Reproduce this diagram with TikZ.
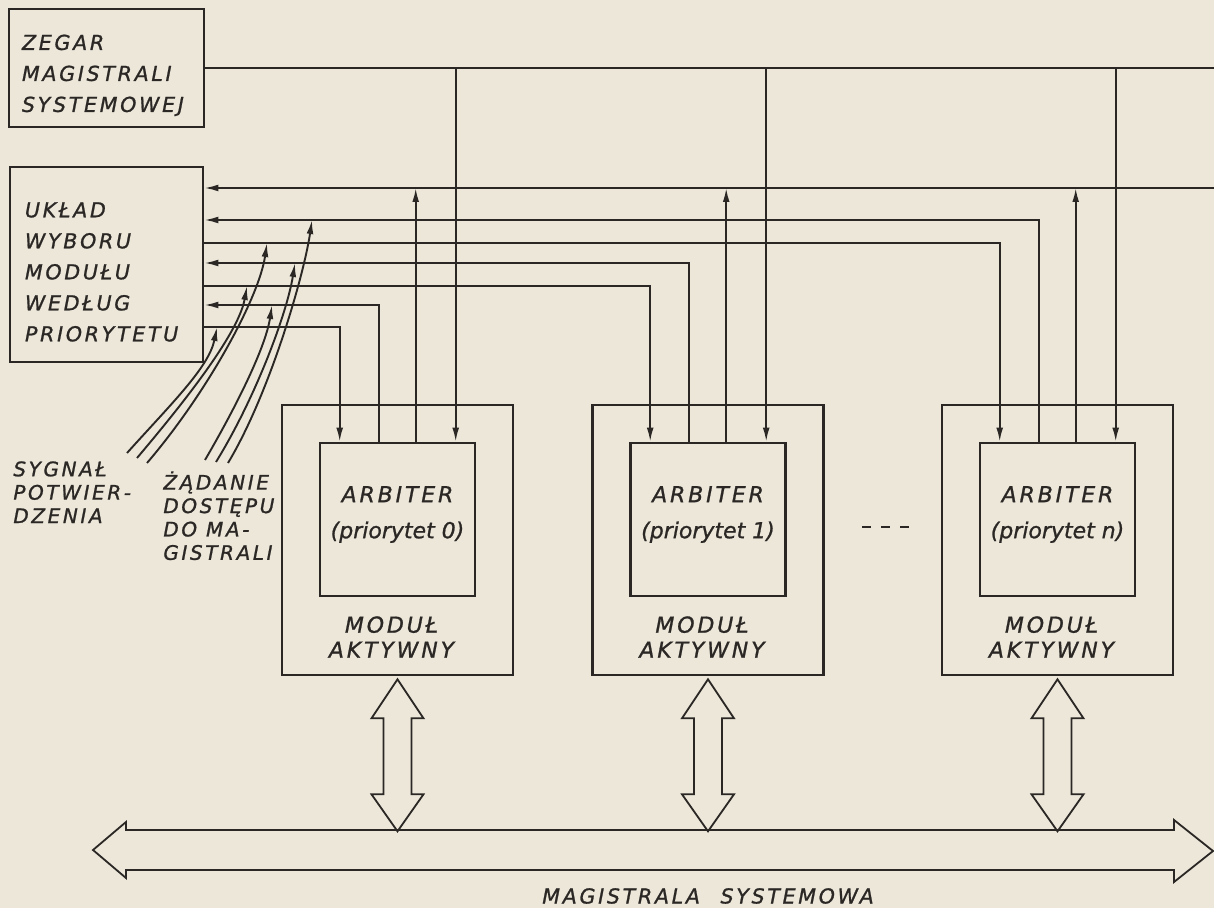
\documentclass[tikz,border=0pt]{standalone}
\usepackage{fontspec}
\usepackage{tikz}
\usetikzlibrary{arrows.meta,calc}
\newfontfamily\handfont{DejaVu Sans}[LetterSpace=13, FakeBold=1]
\newfontfamily\handtight{DejaVu Sans}[FakeBold=1]
\definecolor{paper}{RGB}{236,231,217}
\definecolor{ink}{RGB}{42,39,37}
\newcommand{\busarrow}[1]{% #1 = wezel modulu
  \draw[ink, line width=0.9pt, line join=miter] (#1.south) ++(0,3)
    -- +(26,39) -- +(14,39) -- +(14,115) -- +(26,115) -- +(0,152)
    -- +(-26,115) -- +(-14,115) -- +(-14,39) -- +(-26,39) -- cycle;
}

\begin{document}
\begin{tikzpicture}[x=0.5pt, y=-0.5pt,
    box/.style={draw=ink, line width=1.3pt, inner sep=0pt},
    sig/.style={draw=ink, line width=0.95pt},
    tip/.style={-{Latex[length=7pt,width=3.4pt]}},
    boxtxt/.style={text=ink, font=\handfont\itshape\fontsize{10.3}{15.5}\selectfont},
    arbtxt/.style={text=ink, inner sep=0pt, align=center, font=\handfont\itshape\fontsize{11}{18}\selectfont},
    modtxt/.style={text=ink, inner sep=0pt, align=center, font=\handfont\itshape\fontsize{11}{12.5}\selectfont},
    sigtxt/.style={text=ink, inner sep=0pt, align=left, anchor=north west, font=\handfont\itshape\fontsize{10}{11.7}\selectfont}
  ]
  \fill[paper] (0,0) rectangle (1214,908);
  \useasboundingbox (0,0) rectangle (1214,908);

  % bloki po lewej
  \node[box, boxtxt, align=left, text width=84.5pt, inner xsep=6.5pt, minimum height=59pt] (zegar) at (106.5,68) {\rule{0pt}{15pt}ZEGAR\\MAGISTRALI\\SYSTEMOWEJ};
  \node[box, boxtxt, align=left, text width=81.5pt, inner xsep=7.5pt, minimum height=97.5pt] (uklad) at (106.5,264.5) {\rule{0pt}{15pt}UKŁAD\\WYBORU\\MODUŁU\\WEDŁUG\\PRIORYTETU};

  \coordinate (clkend) at (1214,68);
  \coordinate (wspend) at (1214,188);
  \draw[sig] (zegar.east) -- (clkend);
  \draw[sig, tip] (wspend) -- (uklad.east |- wspend);

  % moduly aktywne z arbitrami
  \foreach \m/\cx/\gy/\ry in {0/397.5/327/305, 1/708/286/263, n/1057.5/243/220} {
    \node[box, minimum width=115.5pt, minimum height=135pt] (mod\m) at (\cx,540) {};
    \node[box, minimum width=77.5pt, minimum height=76.5pt] (arb\m) at (\cx,519.5) {};
    \node[arbtxt] at ([yshift=2.5pt]arb\m.center) {ARBITER\\\handtight(priorytet \m)};
    \node[modtxt] at ([xshift=-3pt]\cx,637) {MODUŁ\\AKTYWNY};
    \coordinate (pin\m A) at ($(arb\m.north west)+(21,0)$);
    \coordinate (pin\m B) at ($(arb\m.north west)+(60,0)$);
    \coordinate (pin\m C) at ($(arb\m.north west)+(97,0)$);
    \coordinate (pin\m D) at ($(arb\m.north west)+(137,0)$);
    \draw[sig, tip] (uklad.east |- 0,\gy) -| (pin\m A);
    \draw[sig, tip] (pin\m B) |- (uklad.east |- 0,\ry);
    \draw[sig, tip] (pin\m C) -- (pin\m C |- wspend);
    \draw[sig, tip] (pin\m D |- clkend) -- (pin\m D);
    \busarrow{mod\m}
  }
  \draw[ink, line width=1.4pt, dash pattern=on 4.5pt off 5pt] (862,527) -- (910,527);

  % magistrala systemowa
  \draw[ink, line width=0.9pt, line join=miter] (126,830) -- (1174,830) -- (1174,820) -- (1213,851)
    -- (1174,882) -- (1174,870) -- (126,870) -- (126,878) -- (93,850) -- (126,822) -- cycle;
  \node[boxtxt] (bus) at (708,896) {MAGISTRALA\quad SYSTEMOWA};

  % opisy sygnalow
  \node[sigtxt] (ack) at (13,461) {SYGNAŁ\\POTWIER-\\DZENIA};
  \node[sigtxt] (req) at (163,471) {ŻĄDANIE\\DOSTĘPU\\DO MA-\\GISTRALI};
  \foreach \k/\sx/\sy/\ex/\ey/\ax/\ay/\bx/\by in {
      1/127/453/217/327/45/-50/-8/40,
      2/137/458/247/286/55/-65/-8/45,
      3/147/463/267/243/60/-70/-8/55,
      4/205/460/272/305/35/-60/-6/40,
      5/216/462/295/263/40/-65/-8/50,
      6/228/463/312/220/42/-70/-8/55} {
    \coordinate (kA\k) at (\sx,\sy);
    \coordinate (kB\k) at (\ex,\ey);
    \draw[sig, tip] (kA\k) .. controls +(\ax,\ay) and +(\bx,\by) .. (kB\k);
  }
\end{tikzpicture}
\end{document}
